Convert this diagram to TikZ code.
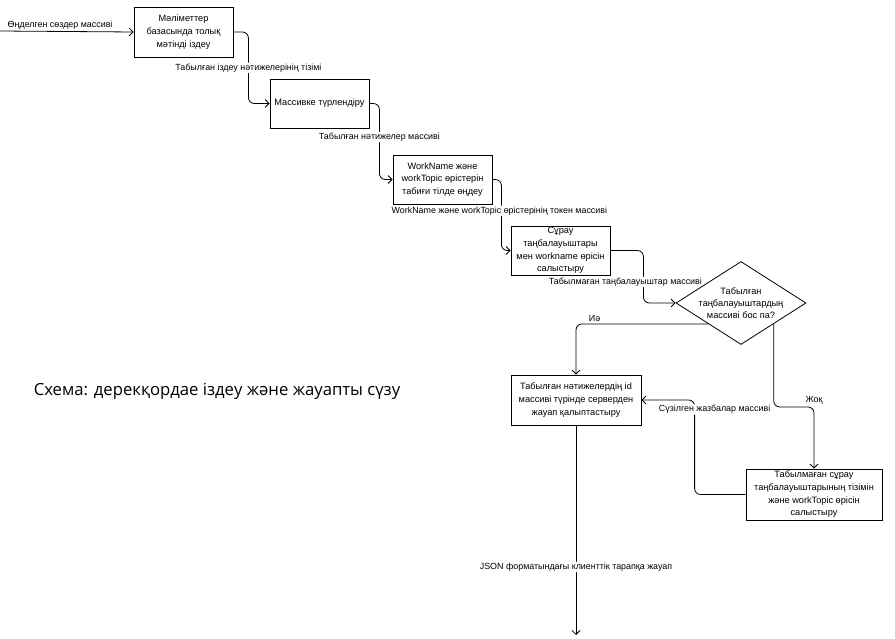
\documentclass[tikz,border=0pt]{standalone}
\usepackage{fontspec}
\setmainfont{Liberation Sans}
\newfontfamily\titlefont{Open Sans}
\usepackage{tikz}
\usetikzlibrary{arrows.meta,positioning,calc,shapes.geometric}

\begin{document}
\begin{tikzpicture}[x=1pt,y=-1pt,
  box/.style={draw,line width=0.8pt,align=center,inner sep=1pt,font=\fontsize{9.2}{12.7}\selectfont},
  dec/.style={draw,diamond,line width=0.8pt,minimum width=130pt,minimum height=83pt,inner sep=0pt},
  conn/.style={line width=0.8pt,rounded corners=6pt,-{Straight Barb[length=4pt,width=8pt]}},
  lbl/.style={fill=white,inner sep=1pt,font=\fontsize{8.9}{10}\selectfont}]
  \useasboundingbox (0,0) rectangle (895,639);
  % Process boxes
  \node[box,minimum width=99pt,minimum height=50pt] (db) at (183.5,32)
    {Мәліметтер\\базасында толық\\мәтінді іздеу};
  \node[box,minimum width=99pt,minimum height=49pt] (arr) at (319.5,103.5)
    {Массивке түрлендіру};
  \node[box,minimum width=99pt,minimum height=49pt] (nlp) at (442.5,179.5)
    {WorkName және\\workTopic өрістерін\\табиғи тілде өңдеу};
  \node[box,minimum width=99pt,minimum height=49pt,inner sep=0pt] (cmp1) at (560.5,250.5)
    {Сұрау\\таңбалауыштары\\мен workname өрісін\\салыстыру};
  % Decision
  \node[dec,label={[align=center,font=\fontsize{9.2}{12}\selectfont]center:{Табылған\\таңбалауыштардың\\массиві бос па?}}] (dec) at (741,303) {};
  \node[box,minimum width=130pt,minimum height=50pt] (resp) at (576,400)
    {Табылған нәтижелердің id\\массиві түрінде серверден\\жауап қалыптастыру};
  \node[box,minimum width=136pt,minimum height=51pt,inner sep=0pt] (cmp2) at (814,494.5)
    {Табылмаған сұрау\\таңбалауыштарының тізімін\\және workTopic өрісін\\салыстыру};
  % Title
  \node[font=\titlefont\fontsize{16.7}{19}\selectfont] (title) at (217,391)
    {Схема: дерекқордае іздеу және жауапты сүзу};
  % Connectors
  \coordinate (in) at (0,31);
  \coordinate (out) at (576,635);
  \draw[conn] (in) -- node[lbl,above=1pt,pos=0.45] (lin) {Өңделген сөздер массиві} (db.west);
  \draw[conn] (db.east) -- ++(15,0) |- node[lbl,pos=0.25] (l1) {Табылған іздеу нәтижелерінің тізімі} (arr.west);
  \draw[conn] (arr.east) -- ++(10,0) |- node[lbl,pos=0.22] (l2) {Табылған нәтижелер массиві} (nlp.west);
  \draw[conn] (nlp.east) -- ++(9,0) |- node[lbl,pos=0.22,xshift=-2pt] (l3) {WorkName және workTopic өрістерінің токен массиві} (cmp1.west);
  \draw[conn] (cmp1.east) -- ++(33,0) |- node[lbl,pos=0.3,xshift=-18pt] (l4) {Табылмаған таңбалауыштар массиві} (dec.west);
  \draw[conn] (dec.south west) -| node[lbl,pos=0.43,above=1pt] (lyes) {Иә} (resp.north);
  \draw[conn] (dec.south east) -- ++(0,83) -| node[lbl,pos=0.5,above=1pt] (lno) {Жоқ} (cmp2.north);
  \draw[conn] (cmp2.west) -- ++(-51,0) |- node[lbl,pos=0.45,xshift=20pt] (lflt) {Сүзілген жазбалар массиві} (resp.east);
  \draw[conn] (resp.south) -- node[lbl,pos=0.676] (lout) {JSON форматындағы клиенттік тарапқа жауап} (out);
\end{tikzpicture}
\end{document}
